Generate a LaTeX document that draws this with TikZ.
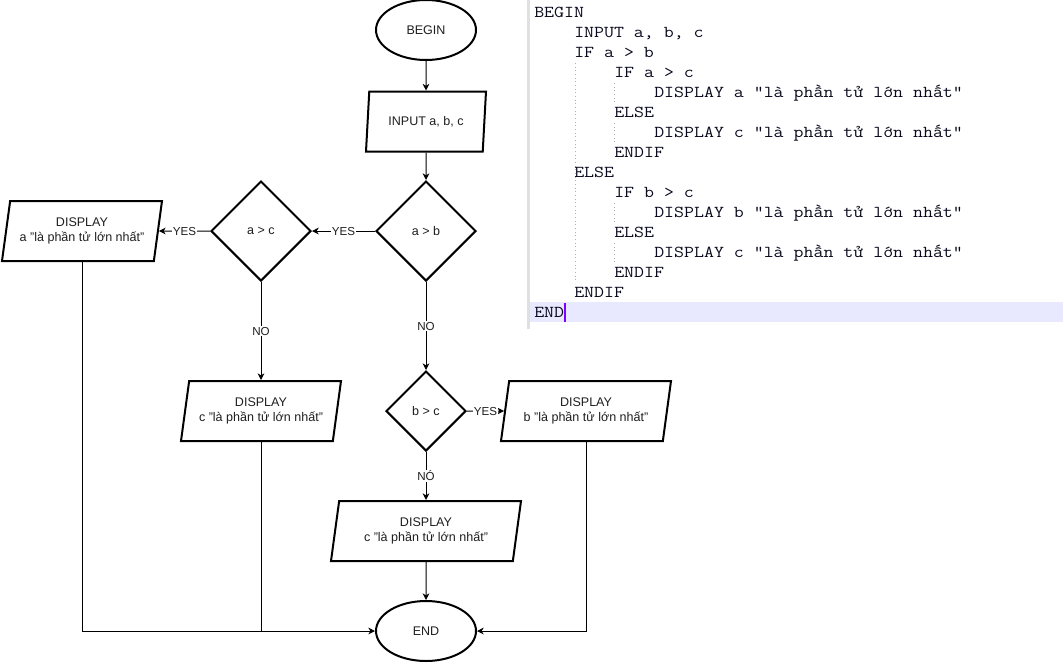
\documentclass[tikz,border=0pt]{standalone}
\usepackage{fontspec}
\setmainfont{Liberation Sans}
\newfontfamily\codefont{Latin Modern Mono}[FakeStretch=1.16]
\usetikzlibrary{shapes.geometric,arrows.meta}
\definecolor{labeltext}{RGB}{30,30,30}
\definecolor{codetext}{RGB}{10,10,30}
\definecolor{linehl}{RGB}{232,232,255}
\definecolor{caret}{RGB}{128,0,255}
\definecolor{gutter}{RGB}{224,224,224}
\definecolor{guide}{RGB}{175,175,175}
\begin{document}
\begin{tikzpicture}[x=0.75pt,y=-0.75pt,
  shapeline/.style={draw=black,line width=1.5pt,text=labeltext,
    font=\fontsize{9.4}{11.5}\selectfont,align=center,inner sep=0pt},
  terminal/.style={shapeline,ellipse,minimum width=75pt,minimum height=45pt},
  decision/.style={shapeline,diamond,aspect=1,minimum width=#1,minimum height=#1},
  io/.style={shapeline,trapezium,trapezium left angle=73,trapezium right angle=107,
    trapezium stretches body,minimum height=45pt},
  flow/.style={line width=0.75pt,-{Stealth[length=5pt,width=5pt,inset=1.5pt]}},
  link/.style={line width=0.75pt},
  edgelabel/.style={fill=white,text=labeltext,font=\fontsize{8.7}{10}\selectfont,inner sep=1pt},
  codeline/.style={anchor=base west,inner sep=0pt,text=codetext,
    font=\codefont\fontsize{12.5}{15}\selectfont},
]
\useasboundingbox (0,0) rectangle (1064,662);

% ---------- flowchart ----------
\node[terminal] (begin) at (426,30) {BEGIN};
\node[io,minimum width=90pt] (input) at (426,121.5) {INPUT a, b, c};
\node[decision=75pt] (ab) at (426,231) {a > b};
\node[decision=75pt] (ac) at (261,231) {a > c};
\node[io,minimum width=120pt] (dispa) at (82,231) {DISPLAY\\a "là phần tử lớn nhất"};
\node[io,minimum width=120pt] (dispc1) at (261,411) {DISPLAY\\c "là phần tử lớn nhất"};
\node[decision=60pt] (bc) at (426,411) {b > c};
\node[io,minimum width=127.5pt] (dispb) at (586,411) {DISPLAY\\b "là phần tử lớn nhất"};
\node[io,minimum width=142.5pt] (dispc2) at (426,531) {DISPLAY\\c "là phần tử lớn nhất"};
\node[terminal] (end) at (426,631) {END};

\draw[flow] (begin) -- (input);
\draw[flow] (input) -- (ab);
\draw[flow] (ab) -- node[edgelabel]{YES} (ac);
\draw[flow] (ac) -- node[edgelabel]{YES} (dispa);
\draw[flow] (ac) -- node[edgelabel]{NO} (dispc1);
\draw[flow] (ab) -- node[edgelabel]{NO} (bc);
\draw[flow] (bc) -- node[edgelabel]{YES} (dispb);
\draw[flow] (bc) -- node[edgelabel]{NÓ} (dispc2);
\draw[flow] (dispc2) -- (end);
\draw[flow] (dispa.270) |- (end.west);
\draw[link] (dispc1.270) -- (dispc1.270 |- end.west);
\draw[flow] (dispb.270) |- (end.east);

% ---------- pseudocode editor ----------
\fill[gutter] (526.5,0) rectangle (529.5,329);
\fill[linehl] (529.5,302) rectangle (1063,322);
\draw[guide,dotted,line width=0.75pt] (575,63) -- (575,283);
\foreach \ya in {83,123,203,243}
  \draw[guide,dotted,line width=0.75pt] (614.5,\ya) -- (614.5,\ya+20);

\node[codeline] (c1)  at (534,17)  {BEGIN};
\node[codeline] (c2)  at (574,37)  {INPUT a, b, c};
\node[codeline] (c3)  at (574,57)  {IF a > b};
\node[codeline] (c4)  at (614,77)  {IF a > c};
\node[codeline] (c5)  at (654,97)  {DISPLAY a "là phần tử lớn nhất"};
\node[codeline] (c6)  at (614,117) {ELSE};
\node[codeline] (c7)  at (654,137) {DISPLAY c "là phần tử lớn nhất"};
\node[codeline] (c8)  at (614,157) {ENDIF};
\node[codeline] (c9)  at (574,177) {ELSE};
\node[codeline] (c10) at (614,197) {IF b > c};
\node[codeline] (c11) at (654,217) {DISPLAY b "là phần tử lớn nhất"};
\node[codeline] (c12) at (614,237) {ELSE};
\node[codeline] (c13) at (654,257) {DISPLAY c "là phần tử lớn nhất"};
\node[codeline] (c14) at (614,277) {ENDIF};
\node[codeline] (c15) at (574,297) {ENDIF};
\node[codeline] (c16) at (534,317) {END};
\draw[caret,line width=1.5pt] (c16.base east) ++(0.5,-14) -- ++(0,19);
\end{tikzpicture}
\end{document}
